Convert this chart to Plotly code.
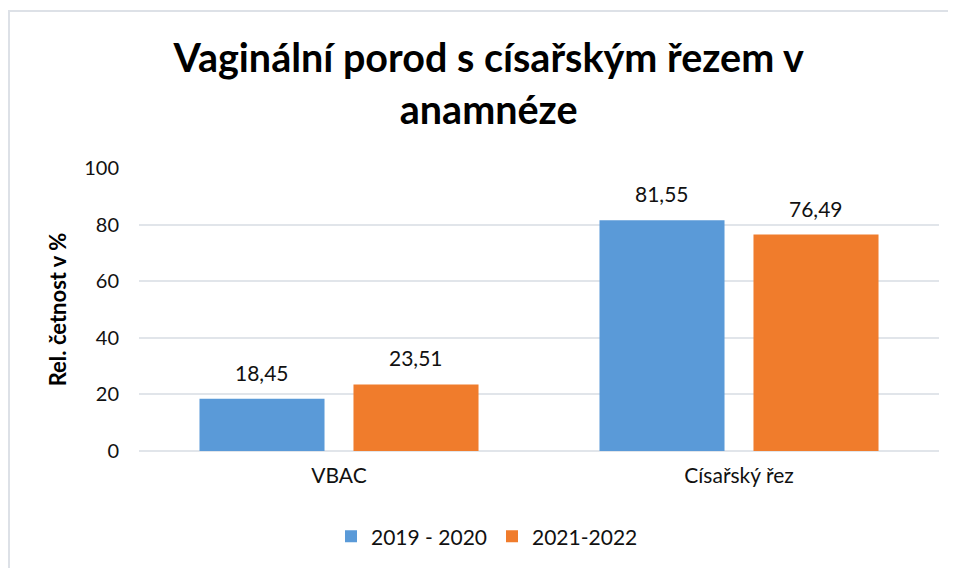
import plotly.graph_objects as go

categories = ["VBAC", "Císařský řez"]
series_names = ["2019 - 2020", "2021-2022"]
values_2019_2020 = [18.45, 81.55]
values_2021_2022 = [23.51, 76.49]
y_ticks = [0, 20, 40, 60, 80, 100]

colors = ["#5a9ad8", "#f07c2c"]
FONT = "Lato"

W, H = 948, 560
L, R, T, B = 131, 17, 160, 116
PW, PH = W - L - R, H - T - B

BARGAP, GROUPGAP = 0.23, 0.188
n_series = 2

fig = go.Figure()
series = [values_2019_2020, values_2021_2022]
for name, vals, col in zip(series_names, series, colors):
    fig.add_trace(go.Bar(
        x=categories, y=vals, name=name,
        marker=dict(color=col, line=dict(width=0)),
        hoverinfo="x+y+name",
    ))

# value labels above bars, placed at each bar's data position
slot = (1 - BARGAP) / n_series
for si, vals in enumerate(series):
    off = -(1 - BARGAP) / 2 + slot * (si + 0.5)
    for ci, v in enumerate(vals):
        fig.add_annotation(
            x=ci + off, y=v, xref="x", yref="y",
            text=f"{v:.2f}".replace(".", ","), showarrow=False,
            yanchor="bottom", yshift=12,
            font=dict(family=FONT, size=21, color="#111111"),
        )

fig.update_layout(
    width=W, height=H,
    margin=dict(l=L, r=R, t=T, b=B),
    paper_bgcolor="white", plot_bgcolor="white",
    separators=", ",
    barmode="group", bargap=BARGAP, bargroupgap=GROUPGAP,
    title=dict(
        text="<b>Vaginální porod s císařským řezem v<br>anamnéze</b>",
        x=0.507, xanchor="center", y=0.885, yanchor="top",
        font=dict(family=FONT, size=39.5, color="#000000"),
    ),
    font=dict(family=FONT, size=21, color="#111111"),
    legend=dict(
        orientation="h", x=0.435, xanchor="center", y=-0.226, yanchor="top",
        font=dict(family=FONT, size=21, color="#111111"),
        itemwidth=30, traceorder="normal",
    ),
    showlegend=True,
)
fig.update_yaxes(
    range=[0, 100], tickvals=y_ticks, ticktext=[str(v) for v in y_ticks],
    showgrid=True, gridcolor="#e1e5ea", gridwidth=1.5,
    zeroline=True, zerolinecolor="#e1e5ea", zerolinewidth=1.5,
    showline=False, ticks="", ticklabelstandoff=19,
    tickfont=dict(family=FONT, size=20, color="#111111"),
    title=dict(text="<b>Rel. četnost v %</b>", standoff=11,
               font=dict(family=FONT, size=22, color="#000000")),
)
fig.update_xaxes(
    showline=False, ticks="", ticklabelstandoff=10,
    tickfont=dict(family=FONT, size=21, color="#111111"),
)

# chart frame
fig.add_shape(type="rect", xref="paper", yref="paper",
              x0=(1 - L) / PW, x1=(970 - L) / PW,
              y0=(T + PH - 600) / PH, y1=(T + PH - 2.5) / PH,
              line=dict(color="#dde1e7", width=2), fillcolor="rgba(0,0,0,0)", layer="below")

fig.write_html("out.html")
